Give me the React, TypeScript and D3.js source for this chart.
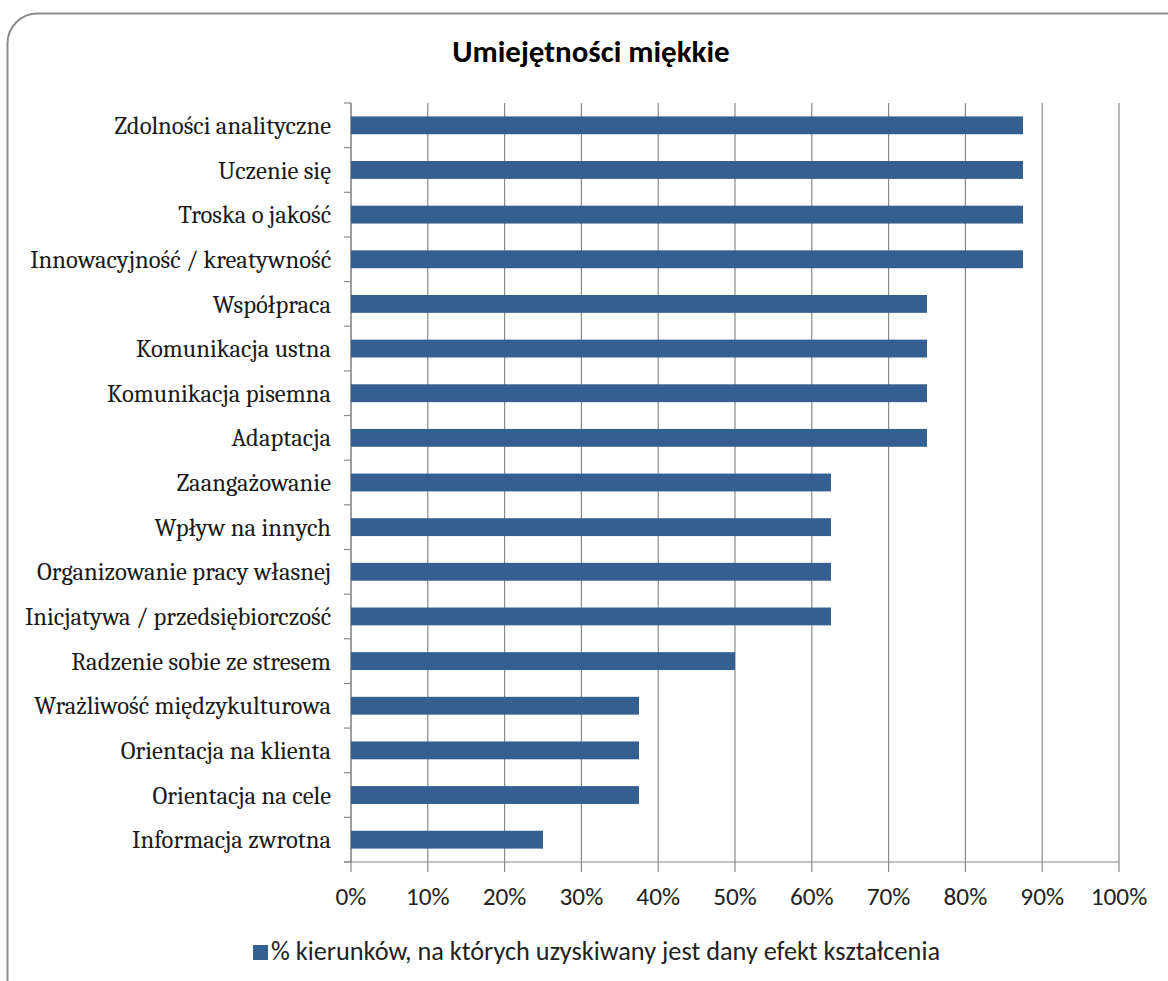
import React from "react";
import * as d3 from "d3";

const categories = [
  "Zdolności analityczne",
  "Uczenie się",
  "Troska o jakość",
  "Innowacyjność / kreatywność",
  "Współpraca",
  "Komunikacja ustna",
  "Komunikacja pisemna",
  "Adaptacja",
  "Zaangażowanie",
  "Wpływ na innych",
  "Organizowanie pracy własnej",
  "Inicjatywa / przedsiębiorczość",
  "Radzenie sobie ze stresem",
  "Wrażliwość międzykulturowa",
  "Orientacja na klienta",
  "Orientacja na cele",
  "Informacja zwrotna",
];
const values = [0.875, 0.875, 0.875, 0.875, 0.75, 0.75, 0.75, 0.75, 0.625, 0.625, 0.625, 0.625, 0.5, 0.375, 0.375, 0.375, 0.25];
const xTicks = [0, 0.1, 0.2, 0.3, 0.4, 0.5, 0.6, 0.7, 0.8, 0.9, 1.0];
const title = "Umiejętności miękkie";
const legendLabel = "% kierunków, na których uzyskiwany jest dany efekt kształcenia";

const W = 1168, H = 981;
const left = 351, right = 1119, top = 103, bottom = 862;
const barColor = "#365f91";
const sans = "Carlito, Calibri, Lato, sans-serif";
const serif = "Cambria, Caladea, 'DejaVu Serif', serif";

export default function App() {
  const x = d3.scaleLinear().domain([0, 1]).range([left, right]);
  const y = d3.scaleBand().domain(categories).range([top, bottom]).paddingInner(0.6).paddingOuter(0.3);
  const fmt = d3.format(".0%");
  const bounds = d3.range(categories.length + 1).map((i) => top + ((bottom - top) * i) / categories.length);
  return (
    <svg width={W} height={H} style={{ position: "absolute", left: 0, top: 0, background: "#fff" }}>
      <rect x={7.5} y={13.5} width={1190} height={1010} rx={30} ry={30} fill="#fff" stroke="#8c8c8c" strokeWidth={2} />
      <text x={591} y={62} textAnchor="middle" fontFamily={sans} fontWeight="bold" fontSize={31} fill="#000">{title}</text>
      {xTicks.map((t) => (
        <line key={"g" + t} x1={x(t)} x2={x(t)} y1={top} y2={bottom + 10} stroke="#8a8a8a" strokeWidth={1.2} />
      ))}
      <line x1={left - 7} x2={right} y1={bottom} y2={bottom} stroke="#8a8a8a" strokeWidth={1.2} />
      <line x1={left} x2={left} y1={top} y2={bottom} stroke="#8a8a8a" strokeWidth={1.2} />
      {bounds.map((b, i) => (
        <line key={"b" + i} x1={left - 7} x2={left} y1={b} y2={b} stroke="#8a8a8a" strokeWidth={1.2} />
      ))}
      {categories.map((c, i) => (
        <g key={c}>
          <rect x={x(0)} y={y(c)!} width={x(values[i]) - x(0)} height={y.bandwidth()} fill={barColor} />
          <text x={331} y={y(c)! + y.bandwidth() / 2} dy="0.35em" textAnchor="end" fontFamily={serif} fontSize={24.6} fill="#1a1a1a">{c}</text>
        </g>
      ))}
      {xTicks.map((t) => (
        <text key={"t" + t} x={x(t)} y={905} textAnchor="middle" fontFamily={sans} fontSize={25.3} fill="#222">{fmt(t)}</text>
      ))}
      <rect x={253} y={945} width={15} height={15} fill={barColor} />
      <text x={271} y={960} fontFamily={sans} fontSize={26.3} fill="#222">{legendLabel}</text>
    </svg>
  );
}
